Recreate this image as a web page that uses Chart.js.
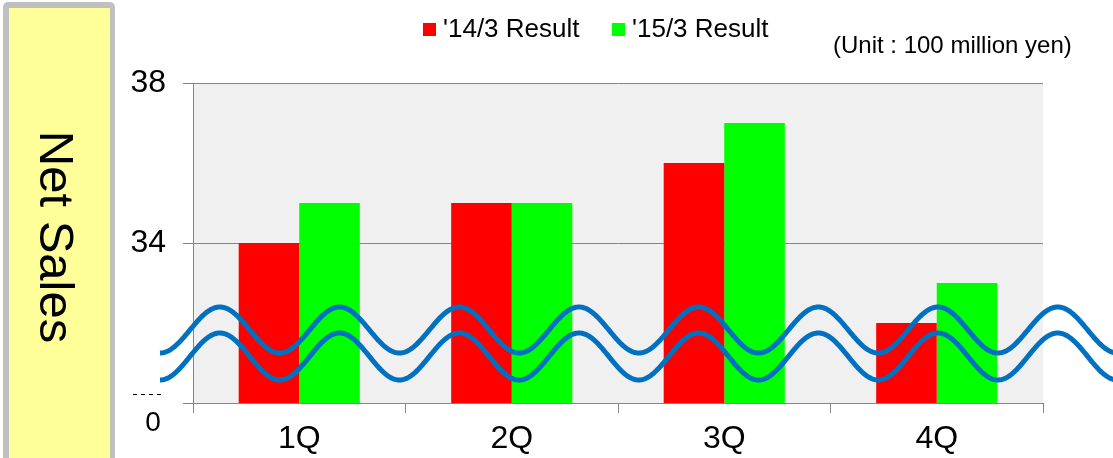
<!DOCTYPE html>
<html>
<head>
<meta charset="utf-8">
<script src="https://cdn.jsdelivr.net/npm/chart.js@4"></script>
<style>
    html, body { margin: 0; padding: 0; background: #fff; }
    #wrap { width: 1113px; height: 458px; position: relative; }
</style>
</head>
<body>
<div id="wrap"><canvas id="salesChart"></canvas></div>
<script>
// Chart data
const quarters = ['1Q', '2Q', '3Q', '4Q'];
const result14 = [34, 35, 36, 32];
const result15 = [35, 35, 37, 33];
const seriesLabels = ["'14/3 Result", "'15/3 Result"];
const seriesColors = ['#ff0000', '#00ff00'];
const axisMin = 30;
const axisMax = 38;
const axisStep = 4;
const axisBreakLabel = '0';
const unitText = '(Unit : 100 million yen)';
const panelTitle = 'Net Sales';

const FONT = "'Liberation Sans', Arial, sans-serif";

// Background, side panel, legend, unit note and the axis-break waves
const decorPlugin = {
    id: 'decor',
    beforeDraw(chart) {
        const ctx = chart.ctx;
        const a = chart.chartArea;
        ctx.save();
        ctx.fillStyle = '#f0f0f0';
        ctx.fillRect(a.left, a.top, a.right - a.left, a.bottom - a.top);

        // yellow title panel on the left
        ctx.fillStyle = '#c0c0c0';
        ctx.beginPath();
        ctx.roundRect(3, 2, 112, 480, 5);
        ctx.fill();
        ctx.fillStyle = '#ffff99';
        ctx.fillRect(9, 8, 101, 470);

        ctx.translate(40, 237);
        ctx.rotate(Math.PI / 2);
        ctx.fillStyle = '#000';
        ctx.font = '49px ' + FONT;
        ctx.textAlign = 'center';
        ctx.textBaseline = 'alphabetic';
        ctx.fillText(panelTitle, 0, 0);
        ctx.restore();
    },
    afterDraw(chart) {
        const ctx = chart.ctx;
        const a = chart.chartArea;
        const y = chart.scales.y;
        ctx.save();

        // legend
        const legendX = [423, 612];
        ctx.font = '26px ' + FONT;
        ctx.textBaseline = 'alphabetic';
        ctx.textAlign = 'left';
        chart.data.datasets.forEach((ds, i) => {
            ctx.fillStyle = ds.backgroundColor;
            ctx.fillRect(legendX[i], 23, 13, 13);
            ctx.fillStyle = '#000';
            ctx.fillText(ds.label, legendX[i] + 20, 37);
        });

        // unit note
        ctx.font = '24px ' + FONT;
        ctx.fillText(unitText, 833, 53);

        // broken axis: "0" label and dashes
        const yBase = y.getPixelForValue(axisMin);
        ctx.font = '28px ' + FONT;
        ctx.textAlign = 'center';
        ctx.textBaseline = 'middle';
        ctx.fillText(axisBreakLabel, 153, yBase + 20);
        ctx.strokeStyle = '#000';
        ctx.lineWidth = 1;
        ctx.setLineDash([4, 4]);
        ctx.beginPath();
        ctx.moveTo(133, yBase - 8.5);
        ctx.lineTo(165, yBase - 8.5);
        ctx.stroke();
        ctx.setLineDash([]);

        // wavy break lines across the plot
        const period = 119.7;
        const x0 = a.left - 33;
        const waves = [
            { c: a.bottom - 73, amp: 23 },
            { c: a.bottom - 46.5, amp: 23.5 }
        ];
        ctx.strokeStyle = '#0070c0';
        ctx.lineWidth = 5;
        ctx.lineJoin = 'round';
        waves.forEach(w => {
            ctx.beginPath();
            for (let x = x0; x <= chart.width + 2; x += 1) {
                const yy = w.c + w.amp * Math.cos(2 * Math.PI * (x - x0) / period);
                if (x === x0) ctx.moveTo(x, yy); else ctx.lineTo(x, yy);
            }
            ctx.stroke();
        });
        ctx.restore();
    }
};

function createSalesChart() {
    const ctx = document.getElementById('salesChart');
    new Chart(ctx, {
        type: 'bar',
        data: {
            labels: quarters,
            datasets: [{
                label: seriesLabels[0],
                data: result14,
                backgroundColor: seriesColors[0],
                borderWidth: 0
            }, {
                label: seriesLabels[1],
                data: result15,
                backgroundColor: seriesColors[1],
                borderWidth: 0
            }]
        },
        options: {
            responsive: true,
            maintainAspectRatio: false,
            animation: false,
            devicePixelRatio: 1,
            layout: {
                padding: { left: 120, right: 70, top: 83, bottom: 0 }
            },
            datasets: {
                bar: {
                    categoryPercentage: 0.57,
                    barPercentage: 1
                }
            },
            plugins: {
                legend: { display: false },
                title: { display: false },
                tooltip: { enabled: false }
            },
            scales: {
                x: {
                    afterFit(scale) { scale.height = 55; },
                    grid: {
                        offset: true,
                        drawOnChartArea: false,
                        drawTicks: true,
                        tickLength: 10,
                        color: '#868686'
                    },
                    border: { color: '#868686', width: 1 },
                    ticks: {
                        color: '#000',
                        padding: 7,
                        font: { family: FONT, size: 32 }
                    }
                },
                y: {
                    min: axisMin,
                    max: axisMax,
                    afterFit(scale) { scale.width = 73; },
                    grid: {
                        color: '#868686',
                        tickLength: 10,
                        drawTicks: true
                    },
                    border: { color: '#868686', width: 1 },
                    ticks: {
                        stepSize: axisStep,
                        color: '#000',
                        padding: 17,
                        font: { family: FONT, size: 32 },
                        callback: (value) => value === axisMin ? '' : value
                    }
                }
            }
        },
        plugins: [decorPlugin]
    });
}

document.addEventListener('DOMContentLoaded', createSalesChart);
</script>
</body>
</html>
